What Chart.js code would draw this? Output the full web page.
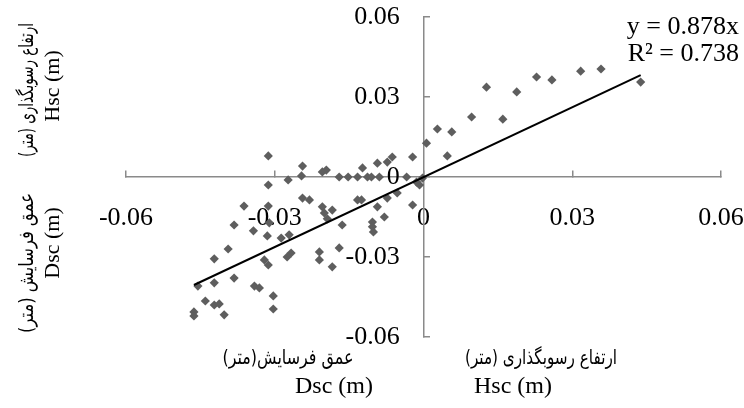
<!DOCTYPE html>
<html lang="fa">
<head>
    <meta charset="UTF-8">
    <title>Hsc vs Dsc</title>
    <script src="https://cdn.jsdelivr.net/npm/chart.js"></script>
    <style>
        body {
            margin: 0;
            background: #fff;
        }
        .chart-container {
            width: 744px;
            height: 408px;
        }
    </style>
</head>
<body>
<div class="chart-container">
    <canvas id="scatterChart" width="744" height="408"></canvas>
</div>

<script>
    // tick labels
    const xTicks = [-0.06, -0.03, 0, 0.03, 0.06];
    const yTicks = [-0.06, -0.03, 0, 0.03, 0.06];

    // observed points
    const xValues = [
        -0.0313, -0.0244, -0.0246, -0.0273, -0.0313, -0.0244, -0.0362, -0.0313, -0.0382, -0.0343,
        -0.0311, -0.0315, -0.0287, -0.0271, -0.0394, -0.0422, -0.0267, -0.0275, -0.0321, -0.0313,
        -0.0382, -0.0422, -0.0455, -0.0341, -0.0331, -0.0303, -0.0440, -0.0422, -0.0412, -0.0303,
        -0.0463, -0.0463, -0.0402, -0.0196, -0.0204, -0.0170, -0.0152, -0.0133, -0.0113, -0.0105,
        -0.0089, -0.0034, -0.0123, -0.0093, -0.0073, -0.0063, -0.0022, -0.0014, -0.0008, -0.0230,
        -0.0133, -0.0125, -0.0053, -0.0073, -0.0204, -0.0200, -0.0022, -0.0093, -0.0184, -0.0194,
        -0.0079, -0.0164, -0.0103, -0.0103, -0.0101, -0.0210, -0.0210, -0.0170, -0.0184, -0.0002,
        0.0006, 0.0028, 0.0057, 0.0048, 0.0097, 0.0127, 0.0160, 0.0188, 0.0228, 0.0259,
        0.0317, 0.0358, 0.0438
    ];
    const yValues = [
        0.0079, 0.0041, 0.0004, -0.0011, -0.0030, -0.0079, -0.0109, -0.0109, -0.0180, -0.0202,
        -0.0172, -0.0221, -0.0229, -0.0217, -0.0270, -0.0307, -0.0285, -0.0300, -0.0311, -0.0330,
        -0.0379, -0.0397, -0.0409, -0.0409, -0.0416, -0.0446, -0.0465, -0.0480, -0.0476, -0.0495,
        -0.0506, -0.0521, -0.0517, 0.0026, 0.0019, 0.0000, 0.0000, 0.0000, 0.0000, 0.0000,
        0.0000, 0.0000, 0.0034, 0.0052, 0.0056, 0.0075, 0.0075, -0.0019, -0.0030, -0.0086,
        -0.0086, -0.0086, -0.0060, -0.0079, -0.0112, -0.0135, -0.0105, -0.0112, -0.0124, -0.0157,
        -0.0150, -0.0180, -0.0169, -0.0187, -0.0206, -0.0281, -0.0311, -0.0266, -0.0337, -0.0004,
        0.0127, 0.0180, 0.0169, 0.0079, 0.0225, 0.0337, 0.0217, 0.0319, 0.0375, 0.0364,
        0.0397, 0.0405, 0.0356
    ];

    // linear trendline through the origin (ends)
    const trendX = [-0.0463, 0.0438];
    const trendY = [-0.0405, 0.0382];

    const equationLines = ['y = 0.878x', 'R² = 0.738'];
    const hscTitle = ['ارتفاع رسوبگذاری (متر)', 'Hsc (m)'];
    const dscTitle = ['عمق فرسایش (متر)', 'Dsc (m)'];
    const dscTitleBottom = 'عمق فرسایش(متر)';

    const axisColor = '#8a8a8a';
    const serif = '"Liberation Serif", "Times New Roman", serif';
    const persian = '"DejaVu Sans", sans-serif';

    // draws text centred on (x, y), squeezed along its direction to a given length
    function drawText(ctx, text, font, width, x, y, angle) {
        ctx.save();
        ctx.translate(x, y);
        ctx.rotate(angle || 0);
        ctx.font = font;
        if (width) {
            ctx.scale(width / ctx.measureText(text).width, 1);
        }
        ctx.fillText(text, 0, 0);
        ctx.restore();
    }

    const axisTitles = {
        id: 'axisTitles',
        afterDraw(chart) {
            const ctx = chart.ctx;
            const up = -Math.PI / 2;
            const faFont = '20px ' + persian;
            ctx.save();
            ctx.fillStyle = '#000';
            ctx.textBaseline = 'middle';

            // trendline equation
            ctx.textAlign = 'right';
            ctx.font = '26px ' + serif;
            ctx.fillText(equationLines[0], 739, 27);
            ctx.fillText(equationLines[1], 739, 54);

            ctx.textAlign = 'center';
            // bottom titles
            drawText(ctx, dscTitleBottom, faFont, 131, 288, 359);
            drawText(ctx, hscTitle[0], faFont, 152, 541, 359);
            drawText(ctx, dscTitle[1], '24px ' + serif, 0, 334, 387);
            drawText(ctx, hscTitle[1], '24px ' + serif, 0, 513, 387);

            // left titles (rotated)
            drawText(ctx, hscTitle[0], faFont, 134, 28, 90, up);
            drawText(ctx, hscTitle[1], '22px ' + serif, 0, 53, 86, up);
            drawText(ctx, dscTitle[0], faFont, 140, 28, 263, up);
            drawText(ctx, dscTitle[1], '22px ' + serif, 0, 53, 243, up);
            ctx.restore();
        }
    };

    const points = xValues.map((x, i) => ({x: x, y: yValues[i]}));
    const trend = trendX.map((x, i) => ({x: x, y: trendY[i]}));

    const tickFont = {family: serif, size: 26};
    // axes sit inside the plot, so their label padding must not shrink it
    const noPadX = (s) => { s.paddingLeft = 0; s.paddingRight = 0; };
    const noPadY = (s) => { s.paddingTop = 0; s.paddingBottom = 0; };

    new Chart(document.getElementById('scatterChart'), {
        type: 'scatter',
        data: {
            datasets: [{
                label: 'Linear',
                data: trend,
                showLine: true,
                borderColor: '#000',
                borderWidth: 2,
                pointRadius: 0,
                fill: false
            }, {
                label: 'Observed',
                data: points,
                pointStyle: 'rectRot',
                pointRadius: 4.6,
                pointBackgroundColor: '#5e5e5e',
                pointBorderWidth: 0,
                borderWidth: 0
            }]
        },
        options: {
            responsive: false,
            animation: false,
            layout: {
                padding: {left: 126, right: 23, top: 17, bottom: 71}
            },
            plugins: {
                legend: {display: false},
                tooltip: {enabled: false}
            },
            scales: {
                x: {
                    type: 'linear',
                    min: -0.06,
                    max: 0.06,
                    position: {y: 0},
                    afterBuildTicks: (scale) => {
                        scale.ticks = xTicks.map(v => ({value: v}));
                    },
                    afterFit: noPadX,
                    grid: {
                        drawOnChartArea: false,
                        tickLength: -7,
                        color: axisColor,
                        lineWidth: 1.5
                    },
                    border: {color: axisColor, width: 1.5},
                    ticks: {
                        padding: 33,
                        color: '#000',
                        font: tickFont,
                        callback: (v) => String(v)
                    }
                },
                y: {
                    type: 'linear',
                    min: -0.06,
                    max: 0.06,
                    position: {x: 0},
                    afterBuildTicks: (scale) => {
                        scale.ticks = yTicks.map(v => ({value: v}));
                    },
                    afterFit: noPadY,
                    grid: {
                        drawOnChartArea: false,
                        tickLength: -7,
                        color: axisColor,
                        lineWidth: 1.5
                    },
                    border: {color: axisColor, width: 1.5},
                    ticks: {display: false}
                },
                // label column for the vertical axis, a little left of it
                yLabels: {
                    type: 'linear',
                    axis: 'y',
                    min: -0.06,
                    max: 0.06,
                    position: {x: -0.0048},
                    afterBuildTicks: (scale) => {
                        scale.ticks = yTicks.map(v => ({value: v}));
                    },
                    afterFit: noPadY,
                    grid: {display: false},
                    border: {display: false},
                    ticks: {
                        padding: 0,
                        color: '#000',
                        font: tickFont,
                        callback: (v) => String(v)
                    }
                }
            }
        },
        plugins: [axisTitles]
    });
</script>
</body>
</html>
